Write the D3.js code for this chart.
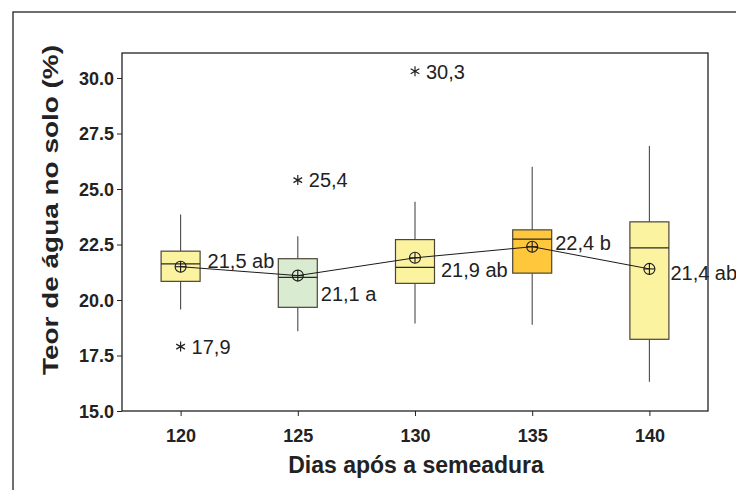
<!DOCTYPE html>
<html>
<head>
<meta charset="utf-8">
<script src="https://cdn.jsdelivr.net/npm/d3@7"></script>
<style>
  html, body { margin: 0; padding: 0; background: #fff; }
  svg { display: block; }
</style>
</head>
<body>
<svg id="chart" width="736" height="490"></svg>
<script>
// Soil water content per sowing date (days after sowing)
const days        = [120, 125, 130, 135, 140];
const whiskerLow  = [19.57, 18.59, 18.94, 18.88, 16.32];
const q1          = [20.84, 19.67, 20.75, 21.21, 18.23];
const median      = [21.63, 21.02, 21.47, 22.74, 22.35];
const q3          = [22.20, 21.86, 22.72, 23.16, 23.52];
const whiskerHigh = [23.85, 22.87, 24.43, 26.00, 26.94];
const means       = [21.5, 21.1, 21.9, 22.4, 21.4];
const letters     = ["ab", "a", "ab", "b", "ab"];
const boxColors   = ["#fbf3a0", "#d9ebd1", "#fbf3a0", "#fec73c", "#fbf3a0"];

// Outliers
const outlierDays   = [120, 125, 130];
const outlierValues = [17.9, 25.4, 30.3];

const yTicks = [15.0, 17.5, 20.0, 22.5, 25.0, 27.5, 30.0];

// Label placement around each mean marker (dx from box centre, dy from mean)
const meanLabelOffset = [[27, -6], [23, 18], [26, 12], [23, -4], [21, 4]];

const fmt = v => d3.format(".1f")(v).replace(".", ",");
const FONT = "'Liberation Sans', Arial, sans-serif";

const svg = d3.select("#chart");
const M = { left: 122, right: 708, top: 53, bottom: 411 };

const x = d3.scaleLinear().domain([117.5, 142.5]).range([M.left, M.right]);
const y = d3.scaleLinear().domain([15, 30]).range([M.bottom, 78]);

// Outer frame
svg.append("rect")
  .attr("x", 13).attr("y", 12).attr("width", 760).attr("height", 520)
  .attr("fill", "none").attr("stroke", "#222").attr("stroke-width", 1.3);

// Axes
const yAxis = svg.append("g")
  .attr("transform", `translate(${M.left},0)`)
  .call(d3.axisLeft(y).tickValues(yTicks).tickFormat(d3.format(".1f")).tickSize(5).tickSizeOuter(0));
const xAxis = svg.append("g")
  .attr("transform", `translate(0,${M.bottom})`)
  .call(d3.axisBottom(x).tickValues(days).tickFormat(d3.format("d")).tickSize(5).tickSizeOuter(0));

[yAxis, xAxis].forEach(a => {
  a.select(".domain").remove();
  a.selectAll(".tick line").attr("stroke", "#222").attr("stroke-width", 1);
  a.selectAll(".tick text")
    .attr("fill", "#222")
    .style("font-family", FONT)
    .style("font-weight", "bold")
    .style("font-size", "18px");
});
yAxis.selectAll(".tick text").attr("x", -8).attr("dy", "0.36em");
xAxis.selectAll(".tick text").attr("y", 18);

// Axis titles
svg.append("text")
  .attr("x", (M.left + M.right) / 2 + 1).attr("y", 473)
  .attr("text-anchor", "middle")
  .attr("fill", "#222")
  .style("font-family", FONT)
  .style("font-weight", "bold").style("font-size", "23px")
  .text("Dias após a semeadura");

svg.append("text")
  .attr("transform", `translate(58,210) rotate(-90)`)
  .attr("text-anchor", "middle")
  .attr("fill", "#222")
  .attr("textLength", 330).attr("lengthAdjust", "spacingAndGlyphs")
  .style("font-family", FONT)
  .style("font-weight", "bold").style("font-size", "22px")
  .text("Teor de água no solo (%)");

// Boxplots
const boxW = 39;
const boxes = svg.append("g").selectAll("g").data(days).join("g");

boxes.append("line")
  .attr("x1", d => x(d)).attr("x2", d => x(d))
  .attr("y1", (d, i) => y(whiskerHigh[i])).attr("y2", (d, i) => y(q3[i]))
  .attr("stroke", "#4a4a4a").attr("stroke-width", 1.1);
boxes.append("line")
  .attr("x1", d => x(d)).attr("x2", d => x(d))
  .attr("y1", (d, i) => y(q1[i])).attr("y2", (d, i) => y(whiskerLow[i]))
  .attr("stroke", "#4a4a4a").attr("stroke-width", 1.1);
boxes.append("rect")
  .attr("x", d => x(d) - boxW / 2).attr("width", boxW)
  .attr("y", (d, i) => y(q3[i])).attr("height", (d, i) => y(q1[i]) - y(q3[i]))
  .attr("fill", (d, i) => boxColors[i])
  .attr("stroke", "#4a4636").attr("stroke-width", 1.2);
boxes.append("line")
  .attr("x1", d => x(d) - boxW / 2).attr("x2", d => x(d) + boxW / 2)
  .attr("y1", (d, i) => y(median[i])).attr("y2", (d, i) => y(median[i]))
  .attr("stroke", "#2a2a22").attr("stroke-width", 1.2);

// Mean connect line
svg.append("path")
  .datum(days)
  .attr("d", d3.line().x(d => x(d)).y((d, i) => y(means[i])))
  .attr("fill", "none").attr("stroke", "#1a1a1a").attr("stroke-width", 1);

// Mean markers: circle with cross
const r = 5.5;
const mk = svg.append("g").selectAll("g").data(days).join("g")
  .attr("transform", (d, i) => `translate(${x(d)},${y(means[i])})`);
mk.append("circle").attr("r", r).attr("fill", "none").attr("stroke", "#1a1a1a").attr("stroke-width", 1.1);
mk.append("line").attr("x1", -r).attr("x2", r).attr("stroke", "#1a1a1a").attr("stroke-width", 1.1);
mk.append("line").attr("y1", -r).attr("y2", r).attr("stroke", "#1a1a1a").attr("stroke-width", 1.1);

// Mean labels
svg.append("g").selectAll("text").data(days).join("text")
  .attr("x", (d, i) => x(d) + meanLabelOffset[i][0])
  .attr("y", (d, i) => y(means[i]) + meanLabelOffset[i][1])
  .attr("dy", "0.36em")
  .attr("fill", "#222")
  .style("font-family", FONT)
  .style("font-size", "20px")
  .text((d, i) => `${fmt(means[i])} ${letters[i]}`);

// Outliers
const star = d3.symbol().type(d3.symbolAsterisk).size(70);
const out = svg.append("g").selectAll("g").data(outlierDays).join("g")
  .attr("transform", (d, i) => `translate(${x(d)},${y(outlierValues[i])})`);
out.append("path").attr("d", star).attr("fill", "none").attr("stroke", "#222").attr("stroke-width", 1.2);
out.append("text")
  .attr("x", 11).attr("dy", "0.36em")
  .attr("fill", "#222")
  .style("font-family", FONT)
  .style("font-size", "20px")
  .text((d, i) => fmt(outlierValues[i]));

// Plot frame, drawn last so it sits over labels that run past the edge
svg.append("rect")
  .attr("x", M.left).attr("y", M.top)
  .attr("width", M.right - M.left).attr("height", M.bottom - M.top)
  .attr("fill", "none").attr("stroke", "#222").attr("stroke-width", 1.3);
</script>
</body>
</html>
